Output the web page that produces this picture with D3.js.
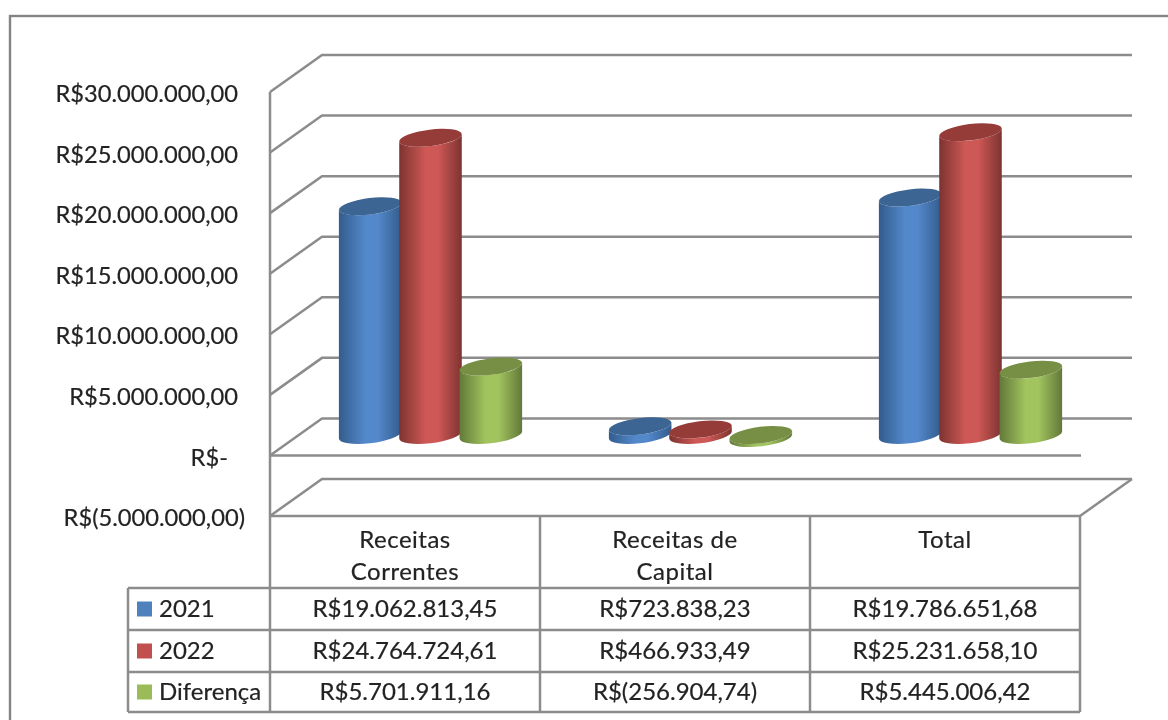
<!DOCTYPE html>
<html>
<head>
<meta charset="utf-8">
<script src="https://cdn.jsdelivr.net/npm/d3@7"></script>
<style>
html, body { margin: 0; padding: 0; background: #fff; }
svg { display: block; }
text { font-family: Lato, sans-serif; font-size: 24px; fill: #222; stroke: #222; stroke-width: 0.2px; }
.tick text { font-size: 23.7px; }
.wide { letter-spacing: 0.5px; }
</style>
</head>
<body>
<script>
var categories = [["Receitas", "Correntes"], ["Receitas de", "Capital"], ["Total"]];
var seriesNames = ["2021", "2022", "Diferença"];
var values2021 = [19062813.45, 723838.23, 19786651.68];
var values2022 = [24764724.61, 466933.49, 25231658.10];
var valuesDiff = [5701911.16, -256904.74, 5445006.42];
var tickValues = [30000000, 25000000, 20000000, 15000000, 10000000, 5000000, 0, -5000000];
var colors = [
    {edge: "#335c8c", mid: "#5388cb", top: "#3c6594", key: "#4f81bd"},
    {edge: "#7d3331", mid: "#ce5855", top: "#953b39", key: "#c0504d"},
    {edge: "#62793a", mid: "#a2c45e", top: "#778f45", key: "#9bbb59"}
];
var allSeries = [values2021, values2022, valuesDiff];

var gray = "#8c8c8c";
var depthX = 52, depthY = -37;
var tilt = -7, rx = 31.5, ry = 8.2;

var svg = d3.select("body").append("svg").attr("width", 1168).attr("height", 720);
var defs = svg.append("defs");
defs.append("filter").attr("id", "soft")
    .append("feGaussianBlur").attr("stdDeviation", 0.45);

colors.forEach(function(c, i) {
    var g = defs.append("linearGradient").attr("id", "cyl" + i);
    g.append("stop").attr("offset", "0%").attr("stop-color", c.edge);
    g.append("stop").attr("offset", "42%").attr("stop-color", c.mid);
    g.append("stop").attr("offset", "62%").attr("stop-color", c.mid);
    g.append("stop").attr("offset", "100%").attr("stop-color", c.edge);
});

var root = svg.append("g").attr("filter", "url(#soft)");

var y = d3.scaleLinear().domain([-5000000, 30000000]).range([516, 92]);
// the cylinders stand in the middle of the floor, so they get their own slightly flatter scale
var yBar = d3.scaleLinear().domain([0, 30000000]).range([435, 75]);
var x = d3.scaleBand().domain(d3.range(categories.length)).range([270, 1080]);
var inner = d3.scaleBand().domain(d3.range(allSeries.length)).range([-91, 90]);

var brl = d3.formatLocale({decimal: ",", thousands: ".", grouping: [3], currency: ["R$", ""]});
var money = brl.format(",.2f");
function fmt(v) {
    return v < 0 ? "R$(" + money(-v) + ")" : "R$" + money(v);
}
function tickFmt(v) {
    if (v === 0) return "R$-";
    return fmt(v);
}

// outer frame
root.append("rect").attr("x", 10).attr("y", 16).attr("width", 1170).attr("height", 720)
    .attr("fill", "none").attr("stroke", "#848484").attr("stroke-width", 2.4);

// walls: grid lines with the little diagonal on the side wall
var grid = root.append("g").attr("fill", "none").attr("stroke", gray).attr("stroke-width", 2.5);
grid.selectAll("path").data(tickValues).enter().append("path")
    .attr("d", function(d) {
        return "M270," + y(d) + "L" + (270 + depthX) + "," + (y(d) + depthY) + "H" + (1080 + depthX);
    });
grid.append("path").attr("d", "M270," + y(30000000) + "V" + y(-5000000));

// floor
grid.append("path").attr("d", "M" + (1080 + depthX) + "," + (y(-5000000) + depthY) + "L1080," + y(-5000000));
grid.append("path").attr("d", "M270," + y(0) + "H1081");

// value axis labels
var axis = d3.axisLeft(y).tickValues(tickValues).tickSize(0).tickPadding(0).tickFormat(tickFmt);
var axisG = root.append("g").attr("transform", "translate(238,2)").call(axis);
axisG.select(".domain").remove();
axisG.selectAll("text").attr("dx", function(d) {
    if (d === 0) return -10;
    return d < 0 ? 7 : 0;
});
axisG.attr("font-family", null).attr("font-size", null);

// cylinders
function ellipseEnds(cx, cy) {
    var phi = tilt * Math.PI / 180;
    var t = Math.atan2(-ry * Math.sin(phi), rx * Math.cos(phi));
    var dx = rx * Math.cos(t) * Math.cos(phi) - ry * Math.sin(t) * Math.sin(phi);
    var dy = rx * Math.cos(t) * Math.sin(phi) + ry * Math.sin(t) * Math.cos(phi);
    return {lx: cx - dx, ly: cy - dy, rx: cx + dx, ry: cy + dy};
}

var bars = [];
allSeries.forEach(function(vals, s) {
    vals.forEach(function(v, c) {
        bars.push({s: s, c: c, v: v});
    });
});
// draw category by category, left bar first, so neighbours overlap like in the picture
bars.sort(function(a, b) { return a.c - b.c || a.s - b.s; });

var barG = root.selectAll("g.bar").data(bars).enter().append("g").attr("class", "bar");
function cx(d) {
    return x(d.c) + x.bandwidth() / 2 + depthX / 2 + inner(d.s) + inner.bandwidth() / 2;
}
// a negative bar hangs under the zero plane, its cap stays on top
function cyTop(d) { return Math.min(yBar(d.v), yBar(0)); }
function cyBottom(d) { return Math.max(yBar(d.v), yBar(0)); }

barG.append("path")
    .attr("fill", function(d) { return "url(#cyl" + d.s + ")"; })
    .attr("d", function(d) {
        var a = ellipseEnds(cx(d), cyTop(d));
        var b = ellipseEnds(cx(d), cyBottom(d));
        return "M" + a.lx + "," + a.ly + "L" + b.lx + "," + b.ly +
            "A" + rx + "," + ry + "," + tilt + ",0,0," + b.rx + "," + b.ry +
            "L" + a.rx + "," + a.ry +
            "A" + rx + "," + ry + "," + tilt + ",0,1," + a.lx + "," + a.ly + "Z";
    });
barG.append("ellipse")
    .attr("rx", rx).attr("ry", ry)
    .attr("fill", function(d) { return colors[d.s].top; })
    .attr("transform", function(d) {
        return "translate(" + cx(d) + "," + cyTop(d) + ") rotate(" + tilt + ")";
    });

// data table under the chart
var rowY = [516, 588, 630, 672, 712];
var colX = x.domain().map(function(d) { return x(d); }).concat([1080]);
var table = root.append("g").attr("fill", "none").attr("stroke", gray).attr("stroke-width", 2.5);
table.append("path").attr("d", "M270," + rowY[0] + "H1080");
colX.forEach(function(cxv) {
    table.append("path").attr("d", "M" + cxv + "," + rowY[0] + "V" + rowY[4]);
});
rowY.slice(1).forEach(function(ry0) {
    table.append("path").attr("d", "M128," + ry0 + "H1080");
});
table.append("path").attr("d", "M128," + rowY[1] + "V" + rowY[4]);

categories.forEach(function(lines, c) {
    lines.forEach(function(t, i) {
        root.append("text")
            .attr("class", "wide")
            .attr("x", x(c) + x.bandwidth() / 2)
            .attr("y", 548 + i * 32)
            .attr("text-anchor", "middle")
            .text(t);
    });
});

allSeries.forEach(function(vals, s) {
    var mid = (rowY[s + 1] + rowY[s + 2]) / 2;
    var ty = mid + 8;
    root.append("rect")
        .attr("x", 137).attr("y", mid - 7.5)
        .attr("width", 15).attr("height", 15)
        .attr("fill", colors[s].key);
    root.append("text").attr("x", 159).attr("y", ty).text(seriesNames[s]);
    vals.forEach(function(v, c) {
        root.append("text")
            .attr("x", x(c) + x.bandwidth() / 2)
            .attr("y", ty)
            .attr("text-anchor", "middle")
            .text(fmt(v));
    });
});
</script>
</body>
</html>
